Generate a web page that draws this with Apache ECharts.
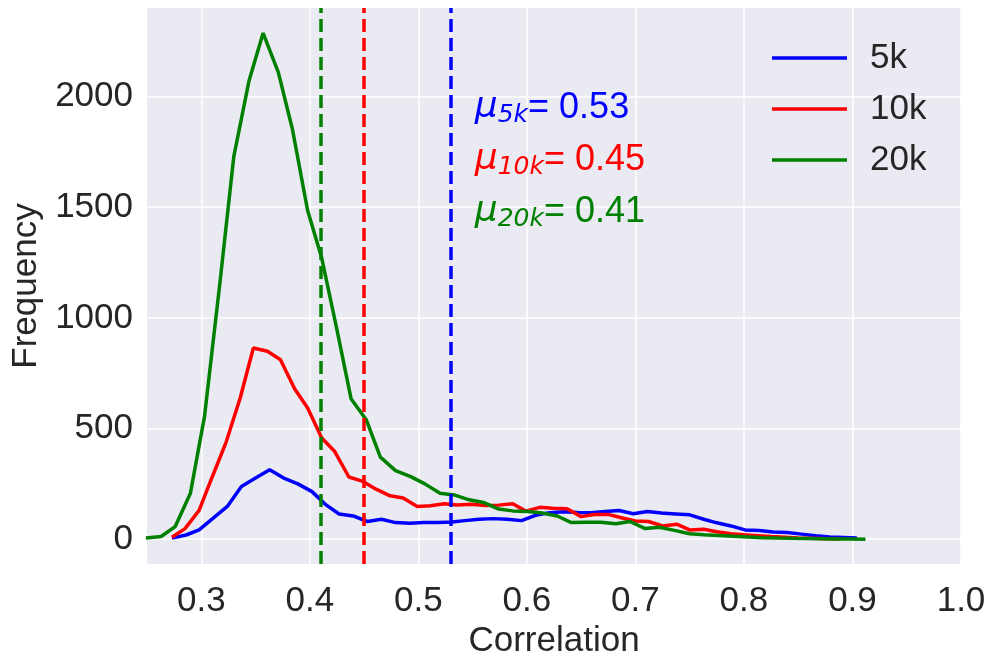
<!DOCTYPE html>
<html>
<head>
<meta charset="utf-8">
<script src="https://cdn.jsdelivr.net/npm/echarts@6/dist/echarts.min.js"></script>
<style>
html,body{margin:0;padding:0;background:#fff;}
#c{width:989px;height:653px;}
</style>
</head>
<body>
<div id="c"></div>
<script>
// ---- data ----
const seriesNames = ['5k', '10k', '20k'];
const seriesColors = ['#0000ff', '#ff0000', '#008000'];

const x5k = [0.273,0.286,0.298,0.311,0.324,0.337,0.350,0.363,0.376,0.389,0.402,0.415,0.427,0.440,0.453,0.466,0.479,0.492,0.505,0.518,0.531,0.543,0.556,0.569,0.582,0.595,0.608,0.621,0.634,0.647,0.659,0.672,0.685,0.698,0.711,0.724,0.737,0.750,0.763,0.775,0.788,0.801,0.814,0.827,0.840,0.853,0.866,0.879,0.892,0.904];
const y5k = [5,19,42,95,148,238,276,314,276,250,215,155,114,105,80,90,75,72,75,75,78,84,90,93,90,84,108,120,124,121,120,125,130,115,125,118,114,110,90,74,60,42,39,33,30,23,16,10,8,5];

const x10k = [0.273,0.285,0.298,0.310,0.323,0.336,0.348,0.361,0.373,0.386,0.398,0.411,0.423,0.436,0.449,0.461,0.474,0.486,0.499,0.511,0.524,0.536,0.549,0.562,0.574,0.587,0.599,0.612,0.624,0.637,0.650,0.662,0.675,0.687,0.700,0.712,0.725,0.738,0.750,0.763,0.775,0.788,0.800,0.813,0.825,0.838,0.850,0.863,0.876,0.888];
const y10k = [9,48,130,280,440,640,864,849,811,680,593,457,396,281,261,226,196,186,148,151,160,155,158,152,154,160,127,144,140,138,102,112,112,97,82,80,60,68,42,45,34,25,20,16,12,9,6,4,2,1];

const x20k = [0.249,0.263,0.276,0.290,0.303,0.317,0.330,0.344,0.357,0.371,0.384,0.398,0.411,0.425,0.438,0.452,0.465,0.479,0.493,0.506,0.520,0.533,0.547,0.560,0.574,0.587,0.601,0.614,0.628,0.641,0.655,0.668,0.682,0.695,0.709,0.722,0.736,0.750,0.763,0.777,0.790,0.804,0.817,0.831,0.844,0.858,0.871,0.885,0.898,0.912];
const y20k = [5,12,57,208,555,1150,1730,2071,2287,2109,1852,1485,1270,947,635,540,371,310,283,250,208,200,178,166,136,128,125,118,105,75,77,77,70,80,48,54,40,25,20,17,13,10,7,5,4,3,2,1,1,0];

const means = [0.526, 0.448, 0.406];
const meanLabels = ['0.53', '0.45', '0.41'];
const meanSubs = ['5k', '10k', '20k'];
const annX = [0.552, 0.552, 0.552];
const annY = [1950, 1715, 1480];

const xTicks = [0.3, 0.4, 0.5, 0.6, 0.7, 0.8, 0.9, 1.0];
const yTicks = [0, 500, 1000, 1500, 2000];
const xRange = [0.25, 1.0];
const yRange = [-112, 2400];

// ---- chart ----
const FONT = "'Liberation Sans', Arial, sans-serif";
const TXT = '#262626';
const FS = 35;
const xs = [x5k, x10k, x20k];
const ys = [y5k, y10k, y20k];

const chart = echarts.init(document.getElementById('c'), null, {renderer: 'canvas'});

const series = seriesNames.map((name, i) => ({
  name: name,
  type: 'line',
  data: xs[i].map((x, j) => [x, ys[i][j]]),
  symbol: 'none',
  smooth: false,
  lineStyle: {color: seriesColors[i], width: 3.5},
  itemStyle: {color: seriesColors[i]},
  z: 3,
  markLine: {
    silent: true,
    symbol: ['none', 'none'],
    label: {show: false},
    lineStyle: {color: seriesColors[i], width: 3.5, type: [13, 6], opacity: 1},
    emphasis: {disabled: true},
    data: [{xAxis: means[i]}],
    animation: false
  }
}));

chart.setOption({
  animation: false,
  backgroundColor: '#ffffff',
  grid: {left: 147, right: 28, top: 8, bottom: 89, show: true, backgroundColor: '#eaeaf2', borderWidth: 0,
    containLabel: false, outerBoundsMode: 'none'},
  xAxis: {
    type: 'value',
    min: xRange[0], max: xRange[1],
    name: 'Correlation',
    nameLocation: 'middle',
    nameGap: 49,
    nameTextStyle: {fontFamily: FONT, fontSize: FS, color: TXT},
    axisLine: {show: false},
    axisTick: {show: false, customValues: xTicks},
    axisLabel: {customValues: xTicks, fontFamily: FONT, fontSize: FS, color: TXT, margin: 20,
      formatter: v => v.toFixed(1)},
    splitLine: {show: true, lineStyle: {color: '#ffffff', width: 1.5}}
  },
  yAxis: {
    type: 'value',
    min: yRange[0], max: yRange[1],
    name: 'Frequency',
    nameLocation: 'middle',
    nameGap: 100,
    nameTextStyle: {fontFamily: FONT, fontSize: FS, color: TXT},
    axisLine: {show: false},
    axisTick: {show: false, customValues: yTicks},
    axisLabel: {customValues: yTicks, fontFamily: FONT, fontSize: FS, color: TXT, margin: 14,
      formatter: v => String(v)},
    splitLine: {show: true, lineStyle: {color: '#ffffff', width: 1.5}}
  },
  legend: {
    orient: 'vertical',
    left: 767, top: 33,
    itemWidth: 75, itemHeight: 14,
    itemGap: 11,
    data: seriesNames.map((n, i) => ({name: n, icon: 'path://M0,5.5 L75,5.5 L75,9 L0,9 Z', itemStyle: {color: seriesColors[i]}})),
    textStyle: {fontFamily: FONT, fontSize: FS, color: TXT, lineHeight: 40, padding: [0, 0, 0, 18]},
    selectedMode: false
  },
  series: series
});

// annotations anchored on data coordinates
const graphics = annX.map((ax, i) => {
  const p = chart.convertToPixel({gridIndex: 0}, [ax, annY[i]]);
  return {
    type: 'text',
    x: p[0], y: p[1],
    z: 10,
    style: {
      text: '{mu|μ}{sub|' + meanSubs[i] + '}{t|= ' + meanLabels[i] + '}',
      verticalAlign: 'middle',
      align: 'left',
      rich: {
        mu: {fontFamily: "'DejaVu Sans'", fontStyle: 'italic', fontSize: 36, fill: seriesColors[i], color: seriesColors[i], lineHeight: 40, verticalAlign: 'middle'},
        sub: {fontFamily: "'DejaVu Sans'", fontStyle: 'italic', fontSize: 25, fill: seriesColors[i], color: seriesColors[i], lineHeight: 25, verticalAlign: 'bottom'},
        t: {fontFamily: FONT, fontSize: 36, fill: seriesColors[i], color: seriesColors[i], lineHeight: 40, verticalAlign: 'middle'}
      }
    }
  };
});
chart.setOption({graphic: graphics});
</script>
</body>
</html>
